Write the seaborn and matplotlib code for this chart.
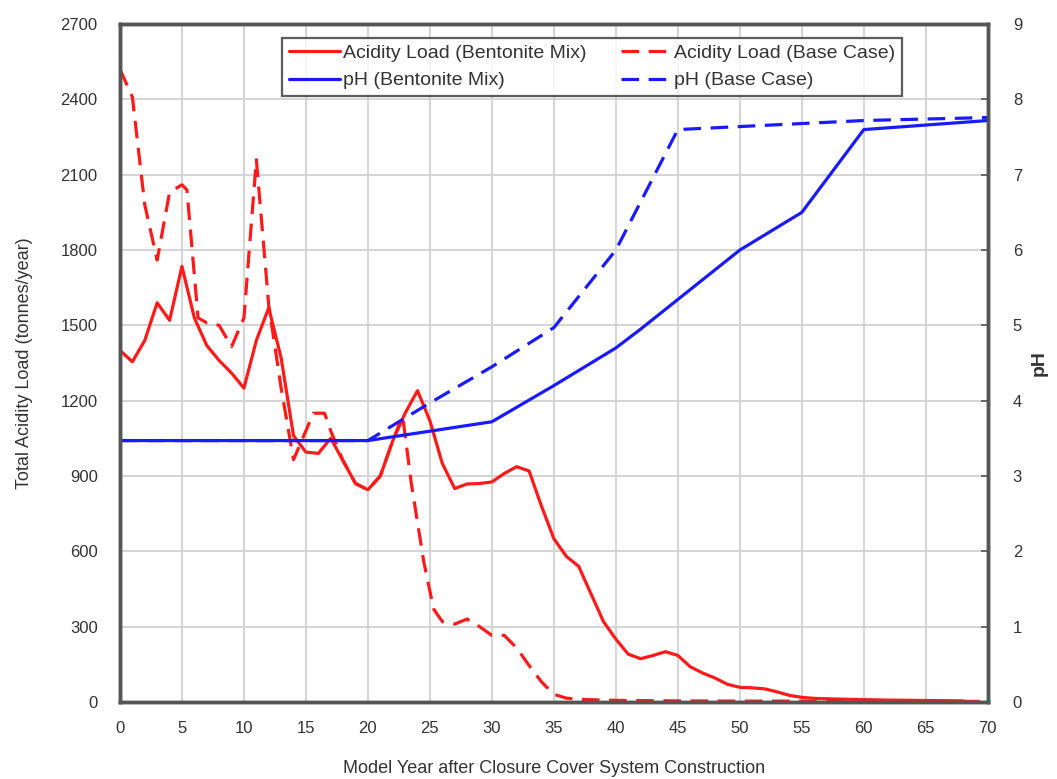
import matplotlib
matplotlib.use("Agg")
import matplotlib.pyplot as plt
import seaborn as sns
import pandas as pd
from matplotlib.lines import Line2D

# ---------------- data ----------------
bent_years = [0, 1, 2, 3, 4, 5, 6, 7, 8, 9, 10, 11, 12, 13, 14, 15, 16, 17, 18, 19,
              20, 21, 22, 23, 24, 25, 26, 27, 28, 29, 30, 31, 32, 33, 34, 35, 36, 37,
              38, 39, 40, 41, 42, 43, 44, 45, 46, 47, 48, 49, 50, 51, 52, 53, 54, 55,
              56, 58, 60, 62, 64, 66, 68]
bent_acid = [1400, 1355, 1440, 1590, 1520, 1735, 1530, 1420, 1360, 1310, 1250, 1440,
             1570, 1370, 1060, 995, 990, 1050, 960, 870, 845, 900, 1040, 1150, 1240,
             1120, 950, 850, 868, 870, 876, 910, 937, 920, 780, 650, 580, 540, 430,
             320, 250, 190, 172, 185, 200, 185, 140, 115, 95, 70, 58, 56, 52, 40, 26,
             18, 14, 11, 9, 7, 6, 5, 4]

base_years = [0, 1, 2, 3, 4, 5, 5.4, 6.3, 7, 8, 9, 10, 11, 12, 13, 14, 15, 15.6, 16.5,
              17, 18, 19, 20, 21, 22, 22.8, 23.5, 24.5, 25.3, 26, 27, 28, 29, 30, 31,
              32, 33, 34, 35, 36, 37, 40, 45, 50, 55, 60, 65, 70]
base_acid = [2520, 2410, 1980, 1760, 2030, 2060, 2040, 1530, 1510, 1500, 1415, 1530,
             2160, 1580, 1250, 965, 1080, 1150, 1150, 1080, 960, 870, 845, 900, 1040,
             1140, 870, 560, 370, 320, 310, 330, 300, 265, 265, 215, 145, 80, 30, 15,
             10, 6, 4, 3, 3, 2, 2, 2]

ph_bent_years = [0, 20, 30, 35, 40, 42, 50, 52, 55, 60, 70]
ph_bent = [3.47, 3.47, 3.72, 4.2, 4.7, 4.95, 6.0, 6.2, 6.5, 7.6, 7.72]

ph_base_years = [0, 20, 25, 30, 35, 40, 45, 50, 55, 60, 70]
ph_base = [3.47, 3.47, 3.97, 4.45, 4.97, 6.0, 7.6, 7.64, 7.68, 7.72, 7.76]

x_ticks = list(range(0, 71, 5))
left_ticks = list(range(0, 2701, 300))
right_ticks = list(range(0, 10))

label_bent_acid = "Acidity Load (Bentonite Mix)"
label_base_acid = "Acidity Load (Base Case)"
label_bent_ph = "pH (Bentonite Mix)"
label_base_ph = "pH (Base Case)"

# ---------------- style ----------------
sns.set_style("white")
plt.rcParams['font.family'] = ['Liberation Sans', 'DejaVu Sans']
text_col = "#333333"
RED = "#ff1a1a"
BLUE = "#1a1aff"

fig = plt.figure(figsize=(10.57, 7.79), dpi=100)
ax = fig.add_axes([0.1135, 0.099, 0.821, 0.870])
ax2 = ax.twinx()

df_b = pd.DataFrame({"year": bent_years, "acid": bent_acid})
df_c = pd.DataFrame({"year": base_years, "acid": base_acid})
df_pb = pd.DataFrame({"year": ph_bent_years, "ph": ph_bent})
df_pc = pd.DataFrame({"year": ph_base_years, "ph": ph_base})

lw = 2.3
dash = (5.5, 3)
sns.lineplot(data=df_b, x="year", y="acid", ax=ax, color=RED, linewidth=lw,
             estimator=None, sort=False)
sns.lineplot(data=df_c, x="year", y="acid", ax=ax, color=RED, linewidth=lw,
             estimator=None, sort=False, linestyle=(0, dash))
sns.lineplot(data=df_pb, x="year", y="ph", ax=ax2, color=BLUE, linewidth=lw,
             estimator=None, sort=False)
sns.lineplot(data=df_pc, x="year", y="ph", ax=ax2, color=BLUE, linewidth=lw,
             estimator=None, sort=False, linestyle=(0, dash))

ax.set_xlim(0, 70)
ax.set_ylim(0, 2700)
ax2.set_ylim(0, 9)
ax.set_xticks(x_ticks)
ax.set_yticks(left_ticks)
ax2.set_yticks(right_ticks)

ax.grid(True, color="#d4d4d4", linewidth=1.4)
ax.set_axisbelow(True)
ax2.grid(False)

for a in (ax, ax2):
    for s in a.spines.values():
        s.set_color("#555555")
        s.set_linewidth(2.5)

ax.tick_params(axis="x", length=0, pad=14, labelsize=12, labelcolor=text_col)
ax.tick_params(axis="y", length=0, pad=16, labelsize=12, labelcolor=text_col)
ax2.tick_params(axis="y", direction="in", length=5, width=1.2, color="#555555",
                pad=18, labelsize=12, labelcolor=text_col)

ax.set_xlabel("Model Year after Closure Cover System Construction", fontsize=13,
              color=text_col, labelpad=17)
ax.set_ylabel("Total Acidity Load (tonnes/year)", fontsize=13, color=text_col,
              labelpad=20)
ax2.set_ylabel("pH", fontsize=14, fontweight="bold", color=text_col, labelpad=6)

handles = [
    Line2D([], [], color=RED, linewidth=lw),
    Line2D([], [], color=BLUE, linewidth=lw),
    Line2D([], [], color=RED, linewidth=lw, linestyle=(0, dash)),
    Line2D([], [], color=BLUE, linewidth=lw, linestyle=(0, dash)),
]
labels = [label_bent_acid, label_bent_ph, label_base_acid, label_base_ph]
leg = ax2.legend(handles, labels, ncol=2, loc="upper left",
                 bbox_to_anchor=(0.187, 0.98), fontsize=14, frameon=True,
                 fancybox=False, shadow=False, borderpad=0.35, handlelength=2.6,
                 handletextpad=0.15, columnspacing=1.8, labelspacing=0.5,
                 borderaxespad=0)
leg.get_frame().set_edgecolor("#333333")
leg.get_frame().set_linewidth(1.6)
for t in leg.get_texts():
    t.set_color(text_col)

fig.savefig("out.png", dpi=100)
